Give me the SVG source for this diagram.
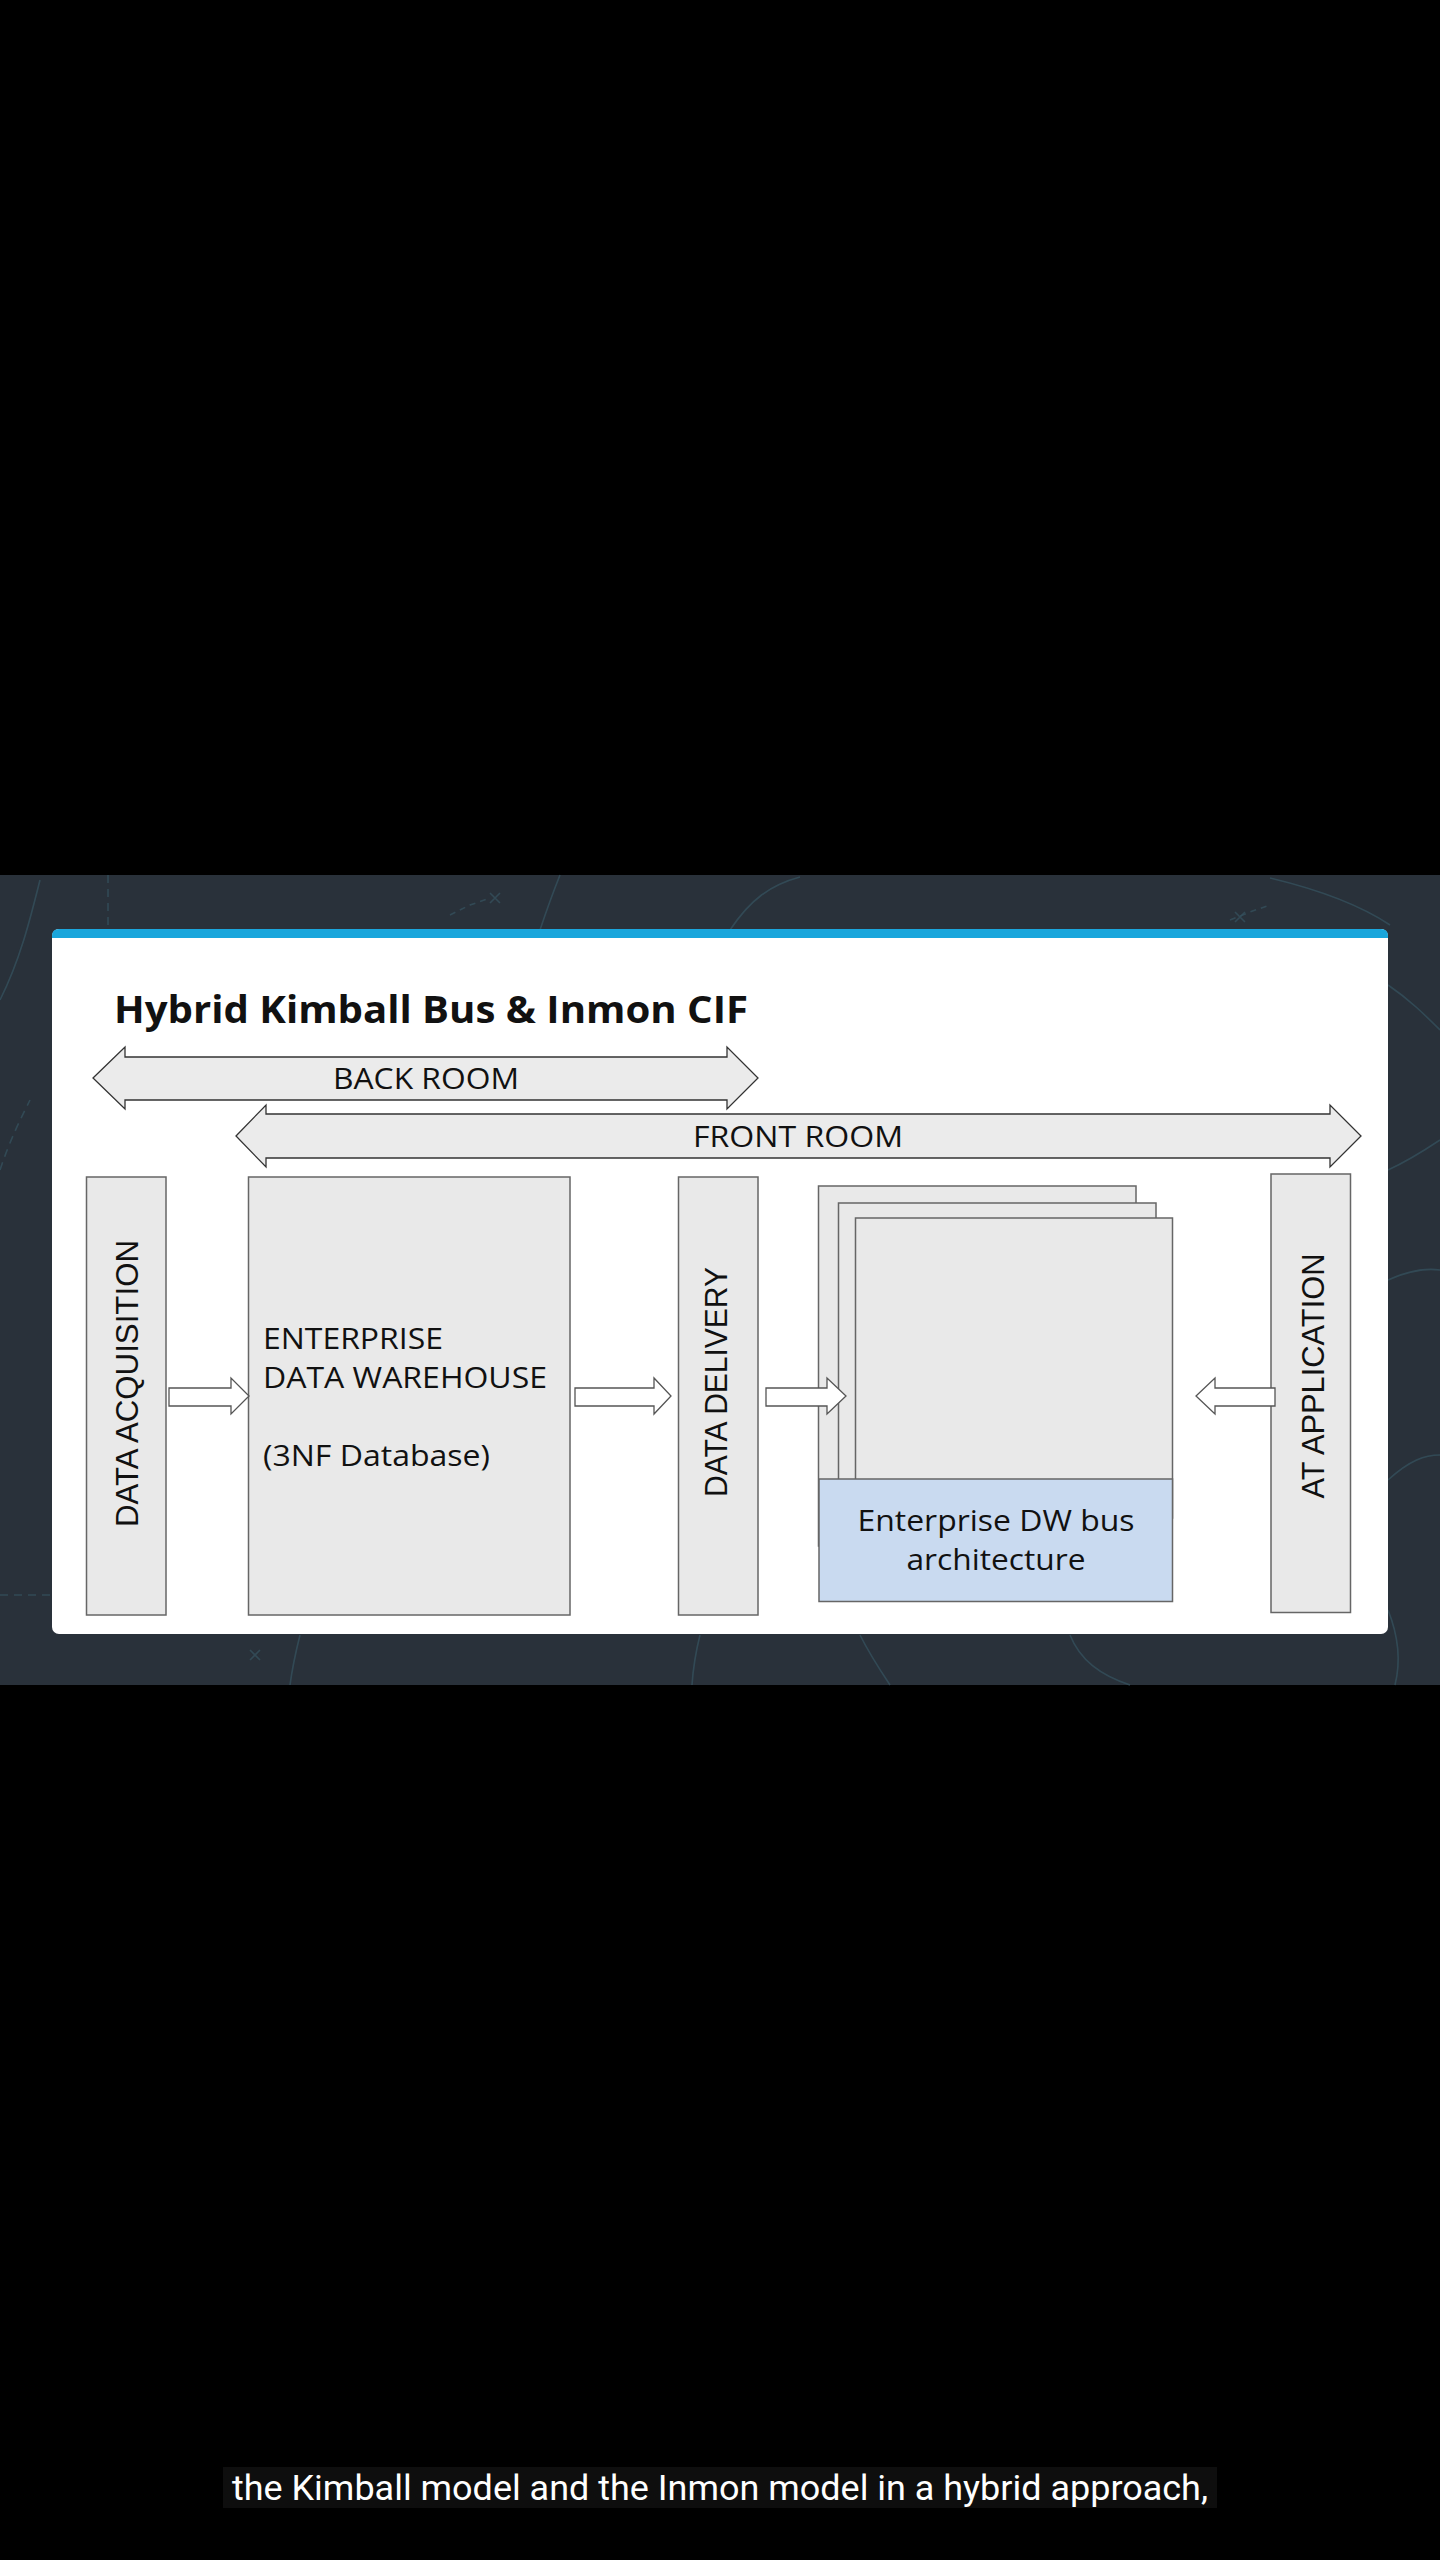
<svg xmlns="http://www.w3.org/2000/svg" width="1440" height="2560" viewBox="0 0 1440 2560">
<style>
.box{fill:#e9e9e9;stroke:#666;stroke-width:1.5}
.room{fill:#ebebeb;stroke:#333;stroke-width:1.3}
.flow{fill:#fff;stroke:#555;stroke-width:1.3}
.t{font-family:"Open Sans","Liberation Sans",sans-serif;fill:#111}
.v{font-family:"Liberation Sans","Open Sans",sans-serif;fill:#111;font-size:31px}
.deco{fill:none;stroke:#34505c;stroke-width:1.6;opacity:0.8}
</style>
<rect x="0" y="0" width="1440" height="2560" fill="#000"/>
<rect x="0" y="875" width="1440" height="810" fill="#29313a"/>
<g id="background-decoration">
<path class="deco" d="M108,875 L108,930" stroke-dasharray="8,6"/>
<path class="deco" d="M0,1000 C20,960 30,920 40,880"/>
<path class="deco" d="M560,875 C550,900 545,915 540,930"/>
<path class="deco" d="M730,930 C750,900 770,885 800,877"/>
<path class="deco" d="M450,915 L470,905 L490,898" stroke-dasharray="6,5"/>
<path class="deco" d="M1230,920 L1250,912 L1270,905" stroke-dasharray="6,5"/>
<path class="deco" d="M1270,878 C1320,890 1360,905 1390,925"/>
<path class="deco" d="M1388,985 C1410,1000 1425,1015 1440,1030"/>
<path class="deco" d="M1388,1170 C1410,1160 1425,1150 1440,1140"/>
<path class="deco" d="M1388,1280 C1410,1270 1425,1268 1440,1270"/>
<path class="deco" d="M1388,1480 C1410,1460 1425,1455 1440,1455"/>
<path class="deco" d="M0,1595 L52,1595" stroke-dasharray="8,6"/>
<path class="deco" d="M0,1170 C10,1140 20,1120 30,1100" stroke-dasharray="8,6"/>
<path class="deco" d="M300,1635 C295,1655 292,1670 290,1685"/>
<path class="deco" d="M700,1635 C695,1655 693,1670 692,1685"/>
<path class="deco" d="M860,1635 C870,1655 880,1670 890,1685"/>
<path class="deco" d="M1070,1635 C1080,1660 1100,1675 1130,1685"/>
<path class="deco" d="M1388,1610 C1400,1640 1400,1665 1395,1685"/>
<path class="deco" d="M250,1650 L260,1660 M260,1650 L250,1660"/>
<path class="deco" d="M490,893 L500,903 M500,893 L490,903"/>
<path class="deco" d="M1235,912 L1245,922 M1245,912 L1235,922"/>
</g>
<g id="card">
<rect x="52" y="929" width="1336" height="705" rx="7" fill="#fff"/>
<path d="M52,938 L52,936 Q52,929 59,929 L1381,929 Q1388,929 1388,936 L1388,938 Z" fill="#1aa6dc"/>
</g>
<text id="title" class="t" x="114" y="1023" font-size="38" font-weight="700" textLength="634" lengthAdjust="spacingAndGlyphs">Hybrid Kimball Bus &amp; Inmon CIF</text>
<g id="back-room">
<path class="room" d="M93,1078 L125,1047 L125,1057 L727,1057 L727,1047 L758,1078 L727,1109 L727,1100 L125,1100 L125,1109 Z"/>
<text class="t" x="426" y="1089" font-size="29" text-anchor="middle" textLength="186" lengthAdjust="spacingAndGlyphs">BACK ROOM</text>
</g>
<g id="front-room">
<path class="room" d="M236,1136 L266,1105 L266,1114 L1330,1114 L1330,1105 L1361,1136 L1330,1167 L1330,1158 L266,1158 L266,1167 Z"/>
<text class="t" x="798" y="1147" font-size="29" text-anchor="middle" textLength="210" lengthAdjust="spacingAndGlyphs">FRONT ROOM</text>
</g>
<g id="data-acquisition">
<rect class="box" x="86.5" y="1177" width="79.5" height="438"/>
<text class="v" transform="translate(137.5,1383.5) rotate(-90)" text-anchor="middle" textLength="287" lengthAdjust="spacingAndGlyphs">DATA ACQUISITION</text>
</g>
<g id="enterprise-dw">
<rect class="box" x="248.5" y="1177" width="321.5" height="438"/>
<text class="t" font-size="30"><tspan x="263" y="1349" textLength="180" lengthAdjust="spacingAndGlyphs">ENTERPRISE</tspan><tspan x="263" y="1388" textLength="284" lengthAdjust="spacingAndGlyphs">DATA WAREHOUSE</tspan><tspan x="263" y="1466" textLength="227" lengthAdjust="spacingAndGlyphs">(3NF Database)</tspan></text>
</g>
<g id="data-delivery">
<rect class="box" x="678.5" y="1177" width="79.5" height="438"/>
<text class="v" transform="translate(727,1382) rotate(-90)" text-anchor="middle" textLength="230" lengthAdjust="spacingAndGlyphs">DATA DELIVERY</text>
</g>
<g id="bus-architecture">
<rect class="box" x="818.5" y="1186" width="317.5" height="360"/>
<rect class="box" x="838.5" y="1203" width="317.5" height="343"/>
<rect class="box" x="855.5" y="1218" width="317" height="300"/>
<rect x="819" y="1479" width="353.5" height="122.5" fill="#c9daf0" stroke="#666" stroke-width="1.5"/>
<text class="t" font-size="30" text-anchor="middle"><tspan x="996" y="1531" textLength="277" lengthAdjust="spacingAndGlyphs">Enterprise DW bus</tspan><tspan x="996" y="1570" textLength="179" lengthAdjust="spacingAndGlyphs">architecture</tspan></text>
</g>
<g id="at-application">
<rect class="box" x="1271" y="1174" width="79.5" height="438.5"/>
<text class="v" transform="translate(1324,1376) rotate(-90)" text-anchor="middle" textLength="245" lengthAdjust="spacingAndGlyphs">AT APPLICATION</text>
</g>
<g id="connectors">
<path class="flow" d="M169,1388 L231,1388 L231,1378 L249,1396 L231,1414 L231,1406 L169,1406 Z"/>
<path class="flow" d="M575,1388 L654,1388 L654,1378 L671,1396 L654,1414 L654,1406 L575,1406 Z"/>
<path class="flow" d="M766,1388 L827,1388 L827,1378 L846,1396 L827,1414 L827,1406 L766,1406 Z"/>
<path class="flow" d="M1275,1388 L1215,1388 L1215,1378 L1196,1396 L1215,1414 L1215,1406 L1275,1406 Z"/>
</g>
<g id="caption">
<rect x="223" y="2467" width="994" height="41" fill="#0e0e0e"/>
<text x="232" y="2500" font-family="Roboto,'Liberation Sans',sans-serif" font-size="35" fill="#fff" textLength="976" lengthAdjust="spacingAndGlyphs">the Kimball model and the Inmon model in a hybrid approach,</text>
</g>
</svg>
